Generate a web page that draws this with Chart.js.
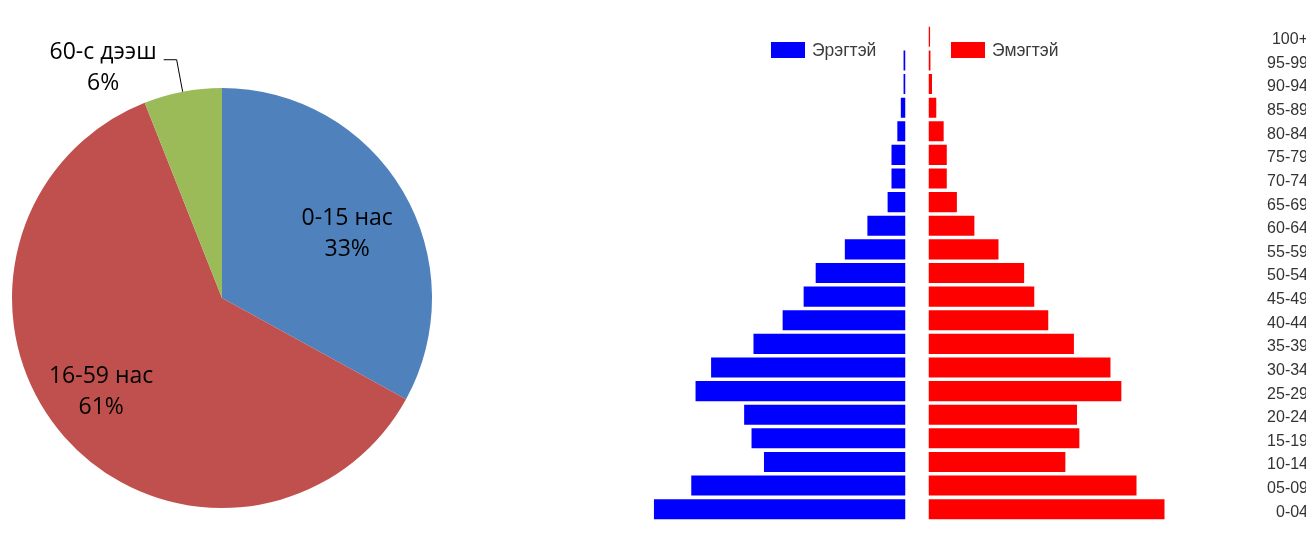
<!DOCTYPE html>
<html lang="mn">
<head>
<meta charset="utf-8">
<title>Хүн амын бүтэц</title>
<script src="https://cdn.jsdelivr.net/npm/chart.js@4.4.1/dist/chart.umd.min.js"></script>
<style>
  html, body { margin: 0; padding: 0; background: #fff; overflow: hidden; width: 1306px; height: 534px; }
  #pie { position: absolute; left: 0; top: 0; }
  #pyramid { position: absolute; left: 640px; top: 0; }
  .item { position: absolute; top: 42px; display: flex; align-items: center; white-space: nowrap;
          font: 17.5px "Liberation Sans", Arial, sans-serif; color: #3c3c3c; line-height: 16px; }
  .box { width: 34px; height: 16px; margin-right: 7px; }
</style>
</head>
<body>
<canvas id="pie" width="452" height="534"></canvas>
<canvas id="pyramid" width="680" height="534"></canvas>
<div id="legend"></div>
<script>
// насны бүлгийн эзлэх хувь
const pieLabels = ["0-15 нас", "16-59 нас", "60-с дээш"];
const pieValues = [33, 61, 6];
const pieColors = ["#4F81BD", "#C0504D", "#9BBB59"];

// хүн амын пирамид, нийт хүн амд эзлэх хувь
const ageGroups = ["0-04", "05-09", "10-14", "15-19", "20-24", "25-29", "30-34", "35-39",
  "40-44", "45-49", "50-54", "55-59", "60-64", "65-69", "70-74", "75-79", "80-84",
  "85-89", "90-94", "95-99", "100+"];
const males = [6.47, 5.51, 3.64, 3.96, 4.15, 5.40, 5.00, 3.91, 3.16, 2.62, 2.31, 1.56,
  0.98, 0.46, 0.36, 0.36, 0.21, 0.12, 0.05, 0.05, 0];
const females = [6.07, 5.35, 3.52, 3.88, 3.82, 4.96, 4.68, 3.74, 3.08, 2.72, 2.46, 1.80,
  1.18, 0.73, 0.47, 0.47, 0.39, 0.20, 0.09, 0.05, 0.04];

const pieLabelPlugin = {
  id: "pieLabels",
  afterDatasetsDraw(chart, args, opts) {
    const ctx = chart.ctx;
    const meta = chart.getDatasetMeta(0);
    ctx.save();
    ctx.font = '23px "Open Sans"';
    ctx.fillStyle = "#000";
    ctx.textAlign = "center";
    ctx.textBaseline = "middle";
    meta.data.forEach((arc, i) => {
      const { x, y, startAngle, endAngle, outerRadius } =
        arc.getProps(["x", "y", "startAngle", "endAngle", "outerRadius"], true);
      const mid = (startAngle + endAngle) / 2;
      const lines = [chart.data.labels[i], chart.data.datasets[0].data[i] + "%"];
      if (endAngle - startAngle > 0.6) {
        const a = mid + opts.shift;
        const r = outerRadius * opts.radii[i];
        const tx = x + Math.cos(a) * r;
        const ty = y + Math.sin(a) * r;
        ctx.fillText(lines[0], tx, ty - 15.5);
        ctx.fillText(lines[1], tx, ty + 15.5);
      } else {
        // жижиг хэсгийн шошго гадна талд, зураастай
        const ex = x + Math.cos(mid) * outerRadius;
        const ey = y + Math.sin(mid) * outerRadius;
        const kx = ex - 6, ky = ey - 32;
        ctx.strokeStyle = "#000";
        ctx.lineWidth = 1;
        ctx.beginPath();
        ctx.moveTo(ex, ey);
        ctx.lineTo(kx, ky);
        ctx.lineTo(kx - 13, ky);
        ctx.stroke();
        const w = ctx.measureText(lines[0]).width;
        const cx = kx - 20 - w / 2;
        ctx.fillText(lines[0], cx, ky - 7);
        ctx.fillText(lines[1], cx, ky + 24);
      }
    });
    ctx.restore();
  }
};

new Chart(document.getElementById("pie"), {
  type: "pie",
  data: {
    labels: pieLabels,
    datasets: [{ data: pieValues, backgroundColor: pieColors, borderWidth: 0 }]
  },
  options: {
    responsive: false,
    animation: false,
    layout: { padding: { left: 12, right: 20, top: 88, bottom: 26 } },
    plugins: {
      legend: { display: false },
      tooltip: { enabled: false },
      pieLabels: { shift: 0.06, radii: [0.67, 0.73, 1] }
    }
  },
  plugins: [pieLabelPlugin]
});

const pyramid = new Chart(document.getElementById("pyramid"), {
  type: "bar",
  data: {
    labels: ageGroups,
    datasets: [
      { label: "Эрэгтэй", data: males, backgroundColor: "#0000FF", xAxisID: "xm" },
      { label: "Эмэгтэй", data: females, backgroundColor: "#FF0000", xAxisID: "xf" }
    ]
  },
  options: {
    indexAxis: "y",
    responsive: false,
    animation: false,
    layout: { padding: { left: 5, right: 12, top: 25, bottom: 13 } },
    datasets: { bar: { grouped: false, barPercentage: 0.85, categoryPercentage: 1, borderWidth: 0 } },
    plugins: { legend: { display: false }, tooltip: { enabled: false } },
    scales: {
      xm: { type: "linear", position: "bottom", stack: "x", stackWeight: 260.5,
            reverse: true, min: 0, max: 6.7, display: false },
      xg: { type: "linear", position: "bottom", stack: "x", stackWeight: 23, display: false },
      xf: { type: "linear", position: "bottom", stack: "x", stackWeight: 260.5,
            min: 0, max: 6.7, display: false },
      y: {
        type: "category",
        position: "right",
        reverse: true,
        grid: { display: false, drawTicks: false },
        border: { display: false },
        ticks: { crossAlign: "far", padding: 3, labelOffset: 3, color: "#333",
                 font: { family: "Liberation Sans", size: 16 } },
        afterFit(scale) { scale.width = 119; }
      }
    }
  }
});

// тайлбар
const legend = document.getElementById("legend");
const legendLeft = [771, 951];
pyramid.data.datasets.forEach((ds, i) => {
  const item = document.createElement("div");
  item.className = "item";
  item.style.left = legendLeft[i] + "px";
  const box = document.createElement("span");
  box.className = "box";
  box.style.background = ds.backgroundColor;
  item.appendChild(box);
  item.appendChild(document.createTextNode(ds.label));
  legend.appendChild(item);
});
</script>
</body>
</html>
